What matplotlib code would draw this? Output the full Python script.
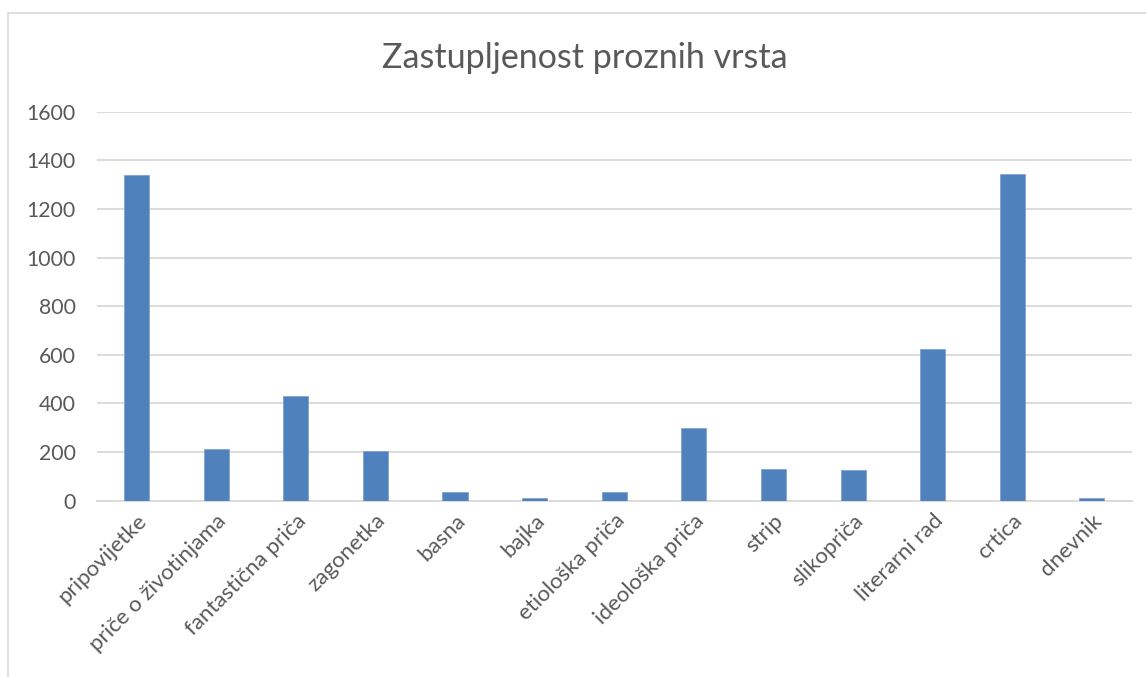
import numpy as np
import matplotlib.pyplot as plt
from matplotlib.patches import Rectangle

categories = ["pripovijetke", "priče o životinjama", "fantastična priča", "zagonetka",
              "basna", "bajka", "etiološka priča", "ideološka priča", "strip",
              "slikopriča", "literarni rad", "crtica", "dnevnik"]
counts = [1341, 213, 430, 203, 34, 12, 34, 300, 130, 127, 626, 1344, 11]
y_ticks = [0, 200, 400, 600, 800, 1000, 1200, 1400, 1600]

TEXT = '#595959'
GRID = '#D9D9D9'
BAR = '#4F81BD'

plt.rcParams['font.family'] = ['Lato', 'DejaVu Sans']

W, H = 1146, 677
fig = plt.figure(figsize=(W / 100, H / 100), dpi=100)

# chart border (extends past the right/bottom edge like the screenshot)
fig.patches.append(Rectangle((8.3 / W, -0.1), 1.2, 1 - 12.7 / H + 0.1,
                             transform=fig.transFigure, fill=False,
                             edgecolor=GRID, linewidth=1.2))

ax = fig.add_axes([96.7 / W, 1 - 500.7 / H, (1131.7 - 96.7) / W, (500.7 - 111.7) / H])
x = np.arange(len(categories))
ax.bar(x, counts, width=0.315, color=BAR, edgecolor='#7FA3D1', linewidth=0.6, zorder=3)

ax.set_xlim(-0.5, len(categories) - 0.5)
ax.set_ylim(0, 1600)
ax.set_yticks(y_ticks)
ax.set_yticklabels([str(v) for v in y_ticks], fontsize=15.3, color=TEXT)
ax.set_xticks(x)
ax.set_xticklabels(categories, rotation=45, ha='right', rotation_mode='anchor',
                   fontsize=16, color=TEXT)
ax.tick_params(axis='both', length=0)
ax.tick_params(axis='y', pad=15)
ax.tick_params(axis='x', pad=7)

ax.grid(axis='y', color=GRID, linewidth=1.3, zorder=0)
for s in ['top', 'right', 'left']:
    ax.spines[s].set_visible(False)
ax.spines['bottom'].set_color(GRID)
ax.spines['bottom'].set_linewidth(1.3)

fig.text(585 / W, 1 - 58 / H, "Zastupljenost proznih vrsta", ha='center', va='center',
         fontsize=24.5, color=TEXT)

fig.savefig('out.png', dpi=100)
